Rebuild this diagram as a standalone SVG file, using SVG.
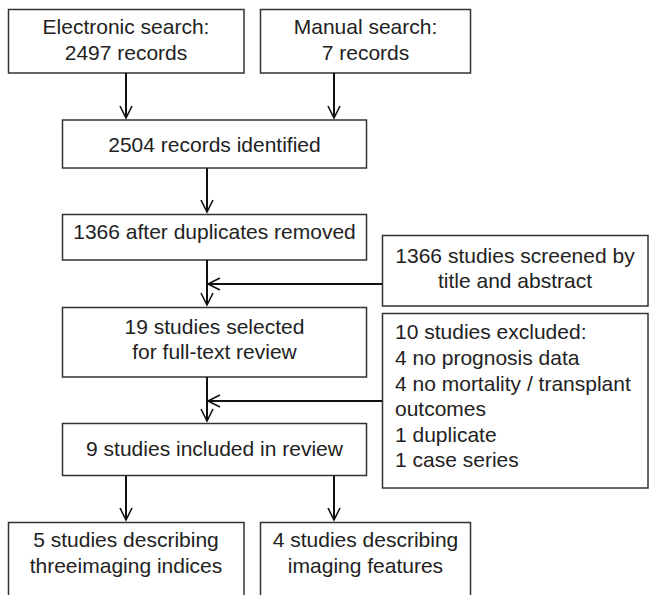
<svg xmlns="http://www.w3.org/2000/svg" width="649" height="595" viewBox="0 0 649 595">
<style>
.box{fill:#fff;stroke:#333;stroke-width:1.5}
text{font-family:"Liberation Sans",Arial,sans-serif;font-size:21px;fill:#222}
.c{text-anchor:middle}
.conn line{stroke:#111;stroke-width:2}
.conn path{fill:none;stroke:#111;stroke-width:1.6}
</style>
<rect width="649" height="595" fill="#fff"/>
<g id="electronic"><rect class="box" x="8.5" y="9.5" width="235.5" height="63.5"/><text class="c" x="126" y="34">Electronic search:</text><text class="c" x="126" y="59.5">2497 records</text></g>
<g id="manual"><rect class="box" x="260.5" y="9.5" width="210" height="63.5"/><text class="c" x="365.5" y="34">Manual search:</text><text class="c" x="365.5" y="59.5">7 records</text></g>
<g id="identified"><rect class="box" x="62.5" y="120" width="304" height="48"/><text class="c" x="214.5" y="152">2504 records identified</text></g>
<g id="dedup"><rect class="box" x="62.5" y="214.5" width="304" height="45.5"/><text class="c" x="214.5" y="239">1366 after duplicates removed</text></g>
<g id="screened"><rect class="box" x="382.5" y="235.5" width="265.5" height="70.5"/><text class="c" x="515" y="263">1366 studies screened by</text><text class="c" x="515" y="288">title and abstract</text></g>
<g id="selected"><rect class="box" x="62.5" y="307.5" width="304" height="69.5"/><text class="c" x="214.5" y="334">19 studies selected</text><text class="c" x="214.5" y="359">for full-text review</text></g>
<g id="excluded"><rect class="box" x="382.5" y="313.5" width="265.5" height="174.5"/>
<text x="395" y="339">10 studies excluded:</text>
<text x="395" y="365">4 no prognosis data</text>
<text x="395" y="391">4 no mortality / transplant</text>
<text x="395" y="416">outcomes</text>
<text x="395" y="442">1 duplicate</text>
<text x="395" y="467">1 case series</text></g>
<g id="included"><rect class="box" x="62.5" y="423.5" width="304" height="52"/><text class="c" x="214.5" y="456">9 studies included in review</text></g>
<g id="indices"><rect class="box" x="8.5" y="522.5" width="235.5" height="80"/><text class="c" x="126" y="547">5 studies describing</text><text class="c" x="126" y="573">threeimaging indices</text></g>
<g id="features"><rect class="box" x="260.5" y="522.5" width="210" height="80"/><text class="c" x="365.5" y="547">4 studies describing</text><text class="c" x="365.5" y="573">imaging features</text></g>
<g id="connectors" class="conn">
<line x1="126" y1="73" x2="126" y2="118"/><path d="M120,106 L126,118 L132,106"/>
<line x1="334" y1="73" x2="334" y2="118"/><path d="M328,106 L334,118 L340,106"/>
<line x1="207" y1="168" x2="207" y2="212"/><path d="M201,200 L207,212 L213,200"/>
<line x1="207" y1="260" x2="207" y2="305"/><path d="M201,293 L207,305 L213,293"/>
<line x1="382" y1="284" x2="208" y2="284"/><path d="M220,278 L208,284 L220,290"/>
<line x1="207" y1="377" x2="207" y2="421"/><path d="M201,409 L207,421 L213,409"/>
<line x1="382" y1="401" x2="208" y2="401"/><path d="M220,395 L208,401 L220,407"/>
<line x1="126" y1="476" x2="126" y2="520"/><path d="M120,508 L126,520 L132,508"/>
<line x1="334" y1="476" x2="334" y2="520"/><path d="M328,508 L334,520 L340,508"/>
</g>
</svg>
